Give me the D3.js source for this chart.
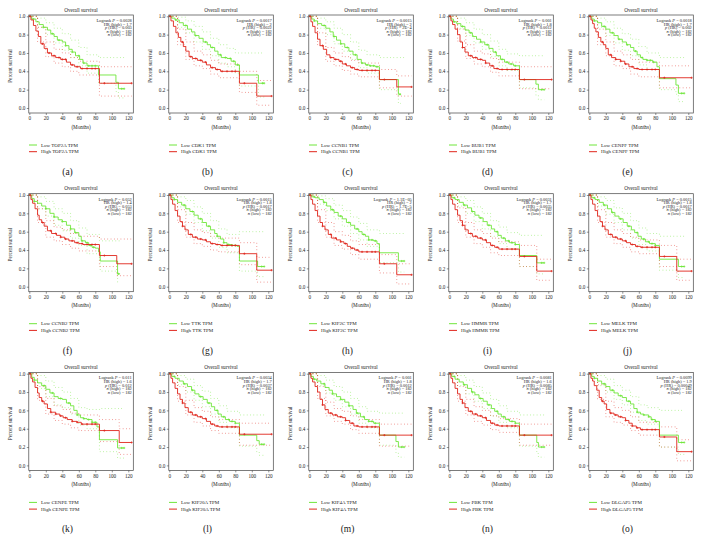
<!DOCTYPE html>
<html><head><meta charset="utf-8">
<script src="https://cdn.jsdelivr.net/npm/d3@7"></script>
<style>body{margin:0;background:#fff}svg text{font-family:"Liberation Serif","Times New Roman",serif;fill:#222}</style>
</head><body><svg id="c" width="701" height="547"></svg>
<script>
const letters = ["a","b","c","d","e","f","g","h","i","j","k","l","m","n","o"];
const genes = ["TOP2A","CDK1","CCNB1","BUB1","CENPF","CCNB2","TTK","KIF2C","HMMR","MELK","CENPE","KIF20A","KIF4A","PBK","DLGAP5"];
const logrankP = ["0.0028","0.0017","0.0015","0.001","0.0018","0.052","0.0015","1.1E\u221205","0.0031","0.0015","0.011","0.0034","0.001","0.0081","0.0099"];
const hrHigh = ["1.7","2","2","1.8","1.7","1.4","1.8","2","1.7","1.8","1.6","1.7","1.8","1.6","1.9"];
const pHR = ["0.003","0.0022","2E\u22124","0.0012","0.002","0.053","0.0017","1.7E\u22125","0.0035","0.0017","0.012","0.0037","0.0012","0.0085","0.00049"];
const nHigh = [182,182,182,182,182,182,182,182,182,182,182,182,182,182,182];
const nLow = [182,182,182,182,182,182,182,182,182,182,182,182,182,182,182];
const xTicks = [0,20,40,60,80,100,120];
const yTicks = [0,0.2,0.4,0.6,0.8,1.0];

const lowCurves = [
 [[0,1],[3,0.97],[8,0.94],[12,0.91],[17,0.88],[22,0.85],[26,0.81],[30,0.78],[34,0.74],[40,0.72],[44,0.68],[48,0.64],[52,0.61],[56,0.57],[61,0.53],[65,0.49],[70,0.46],[84,0.36],[105,0.28],[108,0.21],[115,0.21]],
 [[0,1],[3,0.98],[7,0.96],[12,0.93],[17,0.9],[22,0.86],[27,0.83],[31,0.79],[36,0.76],[41,0.72],[46,0.69],[50,0.66],[55,0.62],[59,0.58],[63,0.55],[70,0.54],[75,0.51],[80,0.47],[85,0.36],[108,0.27],[115,0.27]],
 [[0,1],[3,0.97],[6,0.95],[10,0.92],[15,0.9],[20,0.87],[25,0.83],[29,0.78],[33,0.74],[38,0.7],[43,0.66],[48,0.62],[53,0.58],[58,0.53],[63,0.49],[68,0.47],[73,0.46],[80,0.45],[85,0.31],[108,0.15],[111,0.15]],
 [[0,1],[2,0.97],[5,0.94],[9,0.92],[14,0.89],[19,0.85],[24,0.82],[28,0.78],[33,0.75],[38,0.72],[43,0.69],[48,0.65],[53,0.61],[57,0.57],[62,0.53],[67,0.5],[72,0.48],[78,0.46],[85,0.31],[105,0.26],[108,0.2],[115,0.2]],
 [[0,1],[3,0.97],[6,0.95],[10,0.93],[15,0.89],[20,0.86],[25,0.82],[30,0.79],[35,0.75],[40,0.72],[45,0.69],[50,0.66],[54,0.62],[58,0.58],[62,0.55],[65,0.53],[70,0.52],[77,0.5],[82,0.45],[85,0.32],[105,0.25],[108,0.16],[115,0.16]],
 [[0,1],[3,0.96],[6,0.93],[10,0.91],[15,0.88],[20,0.85],[25,0.8],[30,0.76],[35,0.73],[40,0.71],[45,0.67],[50,0.63],[55,0.59],[60,0.55],[63,0.5],[68,0.48],[72,0.45],[76,0.43],[80,0.42],[84,0.38],[86,0.28],[107,0.14],[110,0.14]],
 [[0,1],[3,0.97],[6,0.95],[10,0.92],[15,0.89],[20,0.85],[25,0.82],[30,0.78],[35,0.74],[40,0.7],[45,0.66],[50,0.62],[55,0.58],[58,0.55],[62,0.52],[66,0.48],[70,0.46],[76,0.45],[82,0.44],[85,0.28],[107,0.22],[115,0.22]],
 [[0,1],[3,0.98],[7,0.97],[12,0.95],[17,0.92],[21,0.88],[26,0.84],[30,0.81],[35,0.77],[40,0.74],[45,0.7],[50,0.67],[55,0.63],[60,0.6],[64,0.57],[68,0.55],[72,0.51],[78,0.5],[82,0.47],[85,0.37],[108,0.28],[115,0.28]],
 [[0,1],[3,0.97],[7,0.95],[12,0.92],[17,0.89],[22,0.86],[27,0.82],[31,0.78],[36,0.75],[41,0.71],[46,0.67],[51,0.63],[55,0.6],[59,0.56],[63,0.53],[68,0.5],[73,0.48],[80,0.46],[85,0.34],[106,0.26],[115,0.26]],
 [[0,1],[3,0.97],[7,0.95],[12,0.92],[17,0.89],[22,0.85],[27,0.81],[31,0.77],[36,0.74],[41,0.7],[46,0.66],[51,0.62],[55,0.59],[59,0.55],[63,0.52],[68,0.49],[73,0.47],[80,0.45],[85,0.3],[108,0.22],[115,0.22]],
 [[0,1],[3,0.96],[6,0.93],[10,0.9],[15,0.87],[20,0.83],[25,0.79],[30,0.75],[35,0.73],[40,0.72],[45,0.68],[50,0.65],[54,0.6],[58,0.55],[62,0.52],[66,0.51],[70,0.5],[76,0.47],[82,0.42],[85,0.28],[107,0.19],[115,0.19]],
 [[0,1],[3,0.97],[7,0.95],[12,0.92],[17,0.89],[22,0.86],[27,0.82],[31,0.78],[36,0.75],[41,0.72],[46,0.68],[51,0.64],[55,0.6],[59,0.56],[63,0.53],[68,0.5],[73,0.48],[80,0.46],[85,0.33],[106,0.27],[109,0.23],[115,0.23]],
 [[0,1],[2,0.97],[5,0.94],[9,0.92],[14,0.89],[19,0.85],[24,0.82],[28,0.78],[33,0.75],[38,0.72],[43,0.69],[48,0.65],[53,0.61],[57,0.57],[62,0.53],[67,0.5],[72,0.48],[78,0.46],[85,0.33],[105,0.26],[108,0.2],[115,0.2]],
 [[0,1],[3,0.97],[7,0.94],[12,0.91],[17,0.88],[22,0.84],[27,0.8],[31,0.77],[36,0.73],[41,0.7],[46,0.66],[51,0.62],[55,0.59],[59,0.56],[63,0.53],[68,0.5],[73,0.48],[80,0.46],[85,0.33],[106,0.25],[108,0.2],[115,0.2]],
 [[0,1],[3,0.97],[6,0.95],[10,0.92],[15,0.89],[20,0.86],[25,0.82],[30,0.79],[35,0.76],[40,0.74],[45,0.7],[50,0.67],[54,0.62],[58,0.58],[62,0.56],[66,0.55],[72,0.53],[75,0.5],[80,0.48],[85,0.33],[108,0.25],[115,0.25]]
];
const highCurves = [
 [[0,1],[2,0.96],[5,0.9],[8,0.84],[11,0.78],[14,0.7],[18,0.65],[22,0.6],[27,0.57],[32,0.55],[38,0.53],[45,0.5],[50,0.47],[55,0.45],[62,0.43],[85,0.27],[124,0.27]],
 [[0,1],[2,0.95],[5,0.89],[8,0.82],[11,0.77],[14,0.72],[17,0.67],[20,0.62],[24,0.56],[28,0.54],[34,0.52],[40,0.5],[45,0.47],[50,0.44],[56,0.42],[62,0.4],[85,0.27],[106,0.13],[124,0.13]],
 [[0,1],[2,0.94],[4,0.89],[7,0.82],[10,0.75],[13,0.68],[17,0.64],[21,0.58],[25,0.55],[30,0.53],[36,0.51],[40,0.48],[45,0.46],[50,0.44],[55,0.42],[60,0.41],[85,0.31],[106,0.23],[124,0.23]],
 [[0,1],[2,0.95],[4,0.91],[7,0.86],[10,0.8],[13,0.72],[16,0.66],[19,0.61],[23,0.57],[28,0.55],[34,0.53],[40,0.52],[44,0.49],[49,0.46],[54,0.43],[60,0.42],[85,0.31],[124,0.31]],
 [[0,1],[2,0.96],[4,0.92],[6,0.87],[8,0.83],[11,0.77],[14,0.72],[17,0.69],[20,0.65],[23,0.58],[27,0.55],[32,0.53],[38,0.51],[43,0.48],[48,0.45],[54,0.43],[60,0.42],[85,0.33],[124,0.33]],
 [[0,1],[2,0.95],[4,0.91],[7,0.85],[10,0.78],[12,0.73],[15,0.7],[18,0.66],[22,0.61],[27,0.58],[33,0.56],[38,0.54],[43,0.52],[48,0.5],[55,0.48],[60,0.47],[65,0.46],[85,0.34],[106,0.25],[124,0.25]],
 [[0,1],[2,0.95],[4,0.9],[7,0.83],[10,0.77],[13,0.71],[16,0.66],[19,0.62],[23,0.57],[28,0.54],[34,0.52],[40,0.51],[45,0.49],[50,0.47],[56,0.46],[62,0.45],[85,0.36],[106,0.18],[124,0.18]],
 [[0,1],[2,0.95],[4,0.9],[7,0.83],[10,0.77],[13,0.7],[16,0.66],[19,0.62],[23,0.57],[27,0.53],[33,0.51],[38,0.49],[42,0.47],[46,0.44],[50,0.42],[55,0.4],[60,0.38],[85,0.25],[106,0.13],[124,0.13]],
 [[0,1],[2,0.95],[4,0.9],[7,0.84],[10,0.78],[13,0.72],[16,0.67],[19,0.62],[23,0.58],[28,0.55],[34,0.53],[40,0.51],[45,0.48],[50,0.45],[55,0.43],[60,0.41],[85,0.33],[106,0.17],[124,0.17]],
 [[0,1],[2,0.95],[4,0.9],[7,0.83],[10,0.77],[13,0.71],[16,0.66],[19,0.62],[23,0.57],[28,0.54],[34,0.52],[40,0.5],[45,0.48],[50,0.46],[56,0.44],[62,0.43],[85,0.33],[106,0.17],[124,0.17]],
 [[0,1],[2,0.95],[4,0.91],[7,0.85],[10,0.79],[12,0.74],[15,0.7],[18,0.67],[22,0.62],[26,0.58],[32,0.56],[37,0.54],[41,0.52],[46,0.5],[52,0.48],[58,0.47],[63,0.45],[85,0.38],[109,0.25],[124,0.25]],
 [[0,1],[2,0.95],[4,0.9],[7,0.84],[10,0.78],[13,0.72],[16,0.68],[19,0.63],[23,0.58],[28,0.55],[34,0.53],[40,0.51],[45,0.48],[50,0.45],[55,0.43],[60,0.42],[85,0.34],[124,0.34]],
 [[0,1],[2,0.95],[4,0.91],[7,0.86],[10,0.8],[13,0.72],[16,0.66],[19,0.61],[23,0.57],[28,0.55],[34,0.53],[40,0.52],[44,0.49],[49,0.46],[54,0.43],[60,0.42],[85,0.33],[124,0.33]],
 [[0,1],[2,0.95],[4,0.9],[7,0.84],[10,0.78],[13,0.72],[16,0.68],[19,0.63],[23,0.59],[28,0.56],[34,0.54],[40,0.52],[45,0.49],[50,0.46],[55,0.44],[60,0.43],[85,0.33],[124,0.33]],
 [[0,1],[2,0.95],[4,0.92],[6,0.87],[9,0.82],[12,0.74],[15,0.7],[18,0.67],[21,0.61],[25,0.57],[30,0.55],[35,0.53],[40,0.52],[44,0.49],[48,0.46],[52,0.43],[57,0.41],[62,0.39],[85,0.31],[106,0.15],[124,0.15]]
];
const lowUpper = [
 [[0,1],[10,0.98],[20,0.93],[30,0.87],[40,0.81],[50,0.74],[60,0.66],[70,0.58],[84,0.55],[118,0.55]],
 [[0,1],[10,0.99],[20,0.95],[30,0.89],[40,0.83],[50,0.76],[60,0.69],[70,0.65],[80,0.6],[115,0.6]],
 [[0,1],[10,0.98],[20,0.94],[30,0.87],[40,0.8],[50,0.72],[60,0.63],[70,0.58],[85,0.55],[115,0.55]],
 [[0,1],[10,0.98],[20,0.93],[30,0.86],[40,0.8],[50,0.73],[60,0.64],[70,0.59],[85,0.57],[115,0.57]],
 [[0,1],[10,0.98],[20,0.94],[30,0.87],[40,0.81],[50,0.75],[60,0.67],[70,0.6],[85,0.55],[115,0.55]],
 [[0,1],[10,0.98],[20,0.93],[30,0.85],[40,0.8],[50,0.72],[60,0.64],[70,0.57],[85,0.5],[110,0.5]],
 [[0,1],[10,0.98],[20,0.94],[30,0.87],[40,0.8],[50,0.72],[60,0.63],[70,0.57],[85,0.6],[115,0.6]],
 [[0,1],[10,0.99],[20,0.96],[30,0.89],[40,0.83],[50,0.76],[60,0.69],[70,0.62],[85,0.58],[115,0.58]],
 [[0,1],[10,0.98],[20,0.94],[30,0.87],[40,0.8],[50,0.72],[60,0.65],[70,0.59],[85,0.56],[115,0.56]],
 [[0,1],[10,0.98],[20,0.94],[30,0.86],[40,0.8],[50,0.72],[60,0.64],[70,0.58],[85,0.55],[115,0.55]],
 [[0,1],[10,0.98],[20,0.92],[30,0.85],[40,0.8],[50,0.73],[60,0.63],[70,0.61],[85,0.62],[115,0.62]],
 [[0,1],[10,0.98],[20,0.94],[30,0.87],[40,0.81],[50,0.73],[60,0.65],[70,0.59],[85,0.55],[115,0.55]],
 [[0,1],[10,0.98],[20,0.93],[30,0.86],[40,0.8],[50,0.73],[60,0.64],[70,0.59],[85,0.57],[115,0.57]],
 [[0,1],[10,0.98],[20,0.93],[30,0.86],[40,0.79],[50,0.72],[60,0.65],[70,0.59],[85,0.55],[115,0.55]],
 [[0,1],[10,0.98],[20,0.94],[30,0.87],[40,0.82],[50,0.75],[60,0.66],[70,0.63],[85,0.6],[115,0.6]]
];
const lowLower = [
 [[0,1],[10,0.88],[20,0.8],[30,0.71],[40,0.63],[50,0.55],[60,0.46],[70,0.38],[84,0.27],[105,0.18],[108,0.11],[115,0.11]],
 [[0,1],[10,0.88],[20,0.82],[30,0.72],[40,0.64],[50,0.57],[60,0.49],[70,0.45],[80,0.38],[85,0.24],[108,0.12],[115,0.12]],
 [[0,1],[10,0.87],[20,0.8],[30,0.7],[40,0.62],[50,0.53],[60,0.44],[70,0.38],[85,0.2],[108,0.05],[111,0.05]],
 [[0,1],[10,0.87],[20,0.79],[30,0.71],[40,0.64],[50,0.56],[60,0.46],[70,0.41],[85,0.22],[105,0.14],[108,0.09],[115,0.09]],
 [[0,1],[10,0.88],[20,0.79],[30,0.71],[40,0.63],[50,0.57],[60,0.47],[70,0.42],[85,0.2],[105,0.15],[108,0.07],[115,0.07]],
 [[0,1],[10,0.85],[20,0.77],[30,0.67],[40,0.61],[50,0.53],[60,0.45],[70,0.36],[86,0.17],[107,0.05],[110,0.05]],
 [[0,1],[10,0.87],[20,0.79],[30,0.7],[40,0.61],[50,0.53],[60,0.43],[70,0.37],[85,0.17],[107,0.11],[115,0.11]],
 [[0,1],[10,0.9],[20,0.83],[30,0.74],[40,0.66],[50,0.58],[60,0.51],[70,0.44],[85,0.26],[108,0.16],[115,0.16]],
 [[0,1],[10,0.88],[20,0.8],[30,0.71],[40,0.63],[50,0.55],[60,0.47],[70,0.41],[85,0.22],[106,0.14],[115,0.14]],
 [[0,1],[10,0.88],[20,0.79],[30,0.7],[40,0.62],[50,0.53],[60,0.46],[70,0.39],[85,0.18],[108,0.1],[115,0.1]],
 [[0,1],[10,0.84],[20,0.75],[30,0.66],[40,0.63],[50,0.56],[60,0.44],[70,0.4],[85,0.15],[107,0.08],[115,0.08]],
 [[0,1],[10,0.88],[20,0.8],[30,0.71],[40,0.64],[50,0.56],[60,0.47],[70,0.41],[85,0.21],[106,0.15],[109,0.11],[115,0.11]],
 [[0,1],[10,0.87],[20,0.79],[30,0.71],[40,0.64],[50,0.56],[60,0.46],[70,0.41],[85,0.22],[105,0.14],[108,0.09],[115,0.09]],
 [[0,1],[10,0.87],[20,0.78],[30,0.7],[40,0.62],[50,0.54],[60,0.47],[70,0.41],[85,0.21],[106,0.13],[108,0.09],[115,0.09]],
 [[0,1],[10,0.87],[20,0.8],[30,0.72],[40,0.66],[50,0.58],[60,0.49],[70,0.45],[85,0.2],[108,0.12],[115,0.12]]
];
const highUpper = [
 [[0,1],[10,0.88],[20,0.72],[30,0.64],[40,0.6],[50,0.55],[60,0.51],[85,0.45],[124,0.45]],
 [[0,1],[10,0.86],[20,0.72],[30,0.62],[40,0.58],[50,0.52],[60,0.48],[85,0.4],[106,0.3],[124,0.3]],
 [[0,1],[10,0.82],[20,0.66],[30,0.6],[40,0.56],[50,0.52],[60,0.49],[85,0.42],[106,0.35],[124,0.35]],
 [[0,1],[10,0.86],[20,0.69],[30,0.62],[40,0.59],[50,0.54],[60,0.5],[85,0.45],[124,0.45]],
 [[0,1],[10,0.86],[20,0.72],[30,0.62],[40,0.58],[50,0.53],[60,0.5],[85,0.46],[124,0.46]],
 [[0,1],[10,0.85],[20,0.72],[30,0.65],[40,0.62],[50,0.58],[60,0.55],[85,0.52],[124,0.52]],
 [[0,1],[10,0.84],[20,0.7],[30,0.62],[40,0.59],[50,0.55],[60,0.53],[85,0.48],[106,0.32],[124,0.32]],
 [[0,1],[10,0.84],[20,0.7],[30,0.6],[40,0.56],[50,0.5],[60,0.46],[85,0.35],[106,0.25],[124,0.25]],
 [[0,1],[10,0.86],[20,0.7],[30,0.62],[40,0.58],[50,0.53],[60,0.49],[85,0.45],[106,0.3],[124,0.3]],
 [[0,1],[10,0.84],[20,0.7],[30,0.62],[40,0.58],[50,0.54],[60,0.51],[85,0.45],[106,0.3],[124,0.3]],
 [[0,1],[10,0.86],[20,0.73],[30,0.65],[40,0.61],[50,0.57],[60,0.55],[85,0.5],[109,0.4],[124,0.4]],
 [[0,1],[10,0.86],[20,0.71],[30,0.63],[40,0.59],[50,0.53],[60,0.5],[85,0.46],[124,0.46]],
 [[0,1],[10,0.86],[20,0.69],[30,0.62],[40,0.59],[50,0.54],[60,0.5],[85,0.45],[124,0.45]],
 [[0,1],[10,0.86],[20,0.72],[30,0.64],[40,0.6],[50,0.54],[60,0.51],[85,0.45],[124,0.45]],
 [[0,1],[10,0.88],[20,0.7],[30,0.63],[40,0.6],[50,0.53],[60,0.47],[85,0.42],[106,0.28],[124,0.28]]
];
const highLower = [
 [[0,1],[10,0.72],[20,0.56],[30,0.49],[40,0.45],[50,0.4],[60,0.36],[85,0.13],[124,0.13]],
 [[0,1],[10,0.69],[20,0.53],[30,0.46],[40,0.43],[50,0.37],[60,0.33],[85,0.17],[106,0.03],[124,0.03]],
 [[0,1],[10,0.68],[20,0.51],[30,0.46],[40,0.41],[50,0.37],[60,0.34],[85,0.22],[106,0.13],[124,0.13]],
 [[0,1],[10,0.73],[20,0.54],[30,0.48],[40,0.45],[50,0.39],[60,0.35],[85,0.21],[124,0.21]],
 [[0,1],[10,0.69],[20,0.57],[30,0.46],[40,0.43],[50,0.37],[60,0.34],[85,0.22],[124,0.22]],
 [[0,1],[10,0.7],[20,0.54],[30,0.5],[40,0.46],[50,0.42],[60,0.39],[85,0.22],[106,0.12],[124,0.12]],
 [[0,1],[10,0.7],[20,0.54],[30,0.47],[40,0.44],[50,0.4],[60,0.38],[85,0.24],[106,0.05],[124,0.05]],
 [[0,1],[10,0.7],[20,0.54],[30,0.45],[40,0.41],[50,0.35],[60,0.3],[85,0.15],[106,0.03],[124,0.03]],
 [[0,1],[10,0.7],[20,0.54],[30,0.47],[40,0.43],[50,0.37],[60,0.34],[85,0.22],[106,0.07],[124,0.07]],
 [[0,1],[10,0.7],[20,0.54],[30,0.47],[40,0.43],[50,0.38],[60,0.36],[85,0.22],[106,0.07],[124,0.07]],
 [[0,1],[10,0.71],[20,0.56],[30,0.49],[40,0.45],[50,0.41],[60,0.38],[85,0.26],[109,0.12],[124,0.12]],
 [[0,1],[10,0.7],[20,0.55],[30,0.47],[40,0.43],[50,0.38],[60,0.35],[85,0.22],[124,0.22]],
 [[0,1],[10,0.73],[20,0.54],[30,0.48],[40,0.45],[50,0.39],[60,0.35],[85,0.21],[124,0.21]],
 [[0,1],[10,0.7],[20,0.55],[30,0.48],[40,0.44],[50,0.39],[60,0.36],[85,0.22],[124,0.22]],
 [[0,1],[10,0.72],[20,0.53],[30,0.47],[40,0.44],[50,0.38],[60,0.33],[85,0.2],[106,0.05],[124,0.05]]
];
const lowCensor = [
 [5,17,28,36,44,52,60,66,72,76,80,112,115],[8,20,32,44,52,62,68,74,78,83,113,115],[6,18,30,38,46,56,64,70,74,78,82,110],
 [6,16,26,38,46,56,64,70,75,80,112,115],[6,18,28,36,46,56,64,70,74,78,112,115],[6,20,30,40,50,56,64,70,74,78,108],
 [6,18,28,38,48,58,66,72,76,80,112,115],[6,18,28,38,48,58,66,72,76,80,112,115],[6,18,28,38,48,58,66,72,76,80,112,115],
 [6,18,28,38,48,58,66,72,76,80,112,115],[6,18,28,38,48,58,66,72,76,80,112,115],[6,18,28,38,48,58,66,72,76,80,112,115],
 [6,18,28,38,48,58,66,72,76,80,112,115],[6,18,28,38,48,58,66,72,76,80,112,115],[6,18,28,38,48,58,66,72,76,80,112,115]
];
const highCensor = [
 [1,16,24,30,36,40,44,52,58,64,70,76,80,91,124],[1,16,26,32,38,44,52,58,64,70,76,80,91,124],[1,16,26,32,38,44,52,58,64,70,76,80,91,124],
 [1,16,26,32,38,44,52,58,64,70,76,80,91,124],[1,16,26,32,38,44,52,58,64,70,76,80,91,124],[1,16,26,32,38,44,52,58,64,70,76,80,91,124],
 [1,16,26,32,38,44,52,58,64,70,76,80,91,124],[1,16,26,32,38,44,52,58,64,70,76,80,91,124],[1,16,26,32,38,44,52,58,64,70,76,80,91,124],
 [1,16,26,32,38,44,52,58,64,70,76,80,91,124],[1,16,26,32,38,44,52,58,64,70,76,80,91,124],[1,16,26,32,38,44,52,58,64,70,76,80,91,124],
 [1,16,26,32,38,44,52,58,64,70,76,80,91,124],[1,16,26,32,38,44,52,58,64,70,76,80,91,124],[1,16,26,32,38,44,52,58,64,70,76,80,91,124]
];

const GREEN = "#6fe63a", RED = "#e0261c";
const colW = 140, rowH = 178.7;
const fL = 28.8, fR = 133.3, fT = 15, fB = 113;
const x = d3.scaleLinear().domain([0,120]).range([29.3,128.3]);
const y = d3.scaleLinear().domain([0,1]).range([108,16.3]);
const line = d3.line().x(d=>x(d[0])).y(d=>y(d[1])).curve(d3.curveStepAfter);
function survAt(c,t){let v=1;for(const p of c) if(p[0]<=t) v=p[1];return v;}

const svg = d3.select("#c");
svg.append("rect").attr("width",701).attr("height",547).attr("fill","#fff");

letters.forEach((L,i)=>{
  const col=i%5,row=Math.floor(i/5);
  const g=svg.append("g").attr("transform",`translate(${col*colW},${row*rowH})`);
  g.append("text").attr("x",(fL+fR)/2).attr("y",11.6).attr("text-anchor","middle").attr("font-size",5.2).text("Overall survival");
  const ay=g.append("g").attr("transform",`translate(${fL},0)`).call(d3.axisLeft(y).tickValues(yTicks).tickFormat(d3.format(".1f")).tickSize(2).tickPadding(1.5));
  const ax=g.append("g").attr("transform",`translate(0,${fB})`).call(d3.axisBottom(x).tickValues(xTicks).tickSize(2).tickPadding(1.5));
  [ay,ax].forEach(a=>{a.select(".domain").remove();a.selectAll("line").attr("stroke","#444").attr("stroke-width",0.6);a.selectAll("text").attr("font-size",5.2).attr("font-family","Liberation Serif").attr("fill","#222");});
  g.append("text").attr("transform",`translate(9.8,${(fT+fB)/2+2}) rotate(-90)`).attr("text-anchor","middle").attr("dy","0.35em").attr("font-size",5.2).text("Percent survival");
  g.append("text").attr("x",(fL+fR)/2).attr("y",128.8).attr("text-anchor","middle").attr("font-size",5.2).text("(Months)");
  const ci=[[lowUpper[i],GREEN],[lowLower[i],GREEN],[highUpper[i],RED],[highLower[i],RED]];
  ci.forEach(([d,c])=>g.append("path").attr("d",line(d)).attr("fill","none").attr("stroke",c).attr("stroke-width",0.7).attr("stroke-dasharray","0.7,2.6").attr("opacity",0.9));
  [[lowCurves[i],lowCensor[i],GREEN],[highCurves[i],highCensor[i],RED]].forEach(([d,cs,c])=>{
    g.append("path").attr("d",line(d)).attr("fill","none").attr("stroke",c).attr("stroke-width",0.9);
    cs.forEach(t=>{const px=x(t),py=y(survAt(d,t));
      g.append("path").attr("d",`M${px-1.1},${py}H${px+1.1}M${px},${py-1.1}V${py+1.1}`).attr("stroke",c).attr("stroke-width",0.7);});
  });
  g.append("rect").attr("x",fL).attr("y",fT).attr("width",fR-fL).attr("height",fB-fT).attr("fill","none").attr("stroke","#444").attr("stroke-width",0.7);
  const st=g.append("g").attr("font-size",4.4).attr("text-anchor","end");
  const lines=[["Logrank ","P"," = "+logrankP[i]],["HR (high) = "+hrHigh[i],"",""],["","p"," (HR) = "+pHR[i]],["","n"," (high) = "+nHigh[i]],["","n"," (low) = "+nLow[i]]];
  lines.forEach((l,k)=>{const t=st.append("text").attr("x",fR-1.5).attr("y",22+k*3.6);
    if(l[0]) t.append("tspan").text(l[0]);
    if(l[1]) t.append("tspan").attr("font-style","italic").text(l[1]);
    if(l[2]) t.append("tspan").text(l[2]);});
  [["Low "+genes[i]+" TPM",GREEN,145],["High "+genes[i]+" TPM",RED,151.7]].forEach(([txt,c,yy])=>{
    g.append("line").attr("x1",29).attr("x2",37).attr("y1",yy).attr("y2",yy).attr("stroke",c).attr("stroke-width",1);
    g.append("text").attr("x",41).attr("y",yy+1.7).attr("font-size",5).text(txt);
  });
  g.append("text").attr("x",67.5).attr("y",175).attr("text-anchor","middle").attr("font-size",9.5).text("("+L+")");
});
</script></body></html>
